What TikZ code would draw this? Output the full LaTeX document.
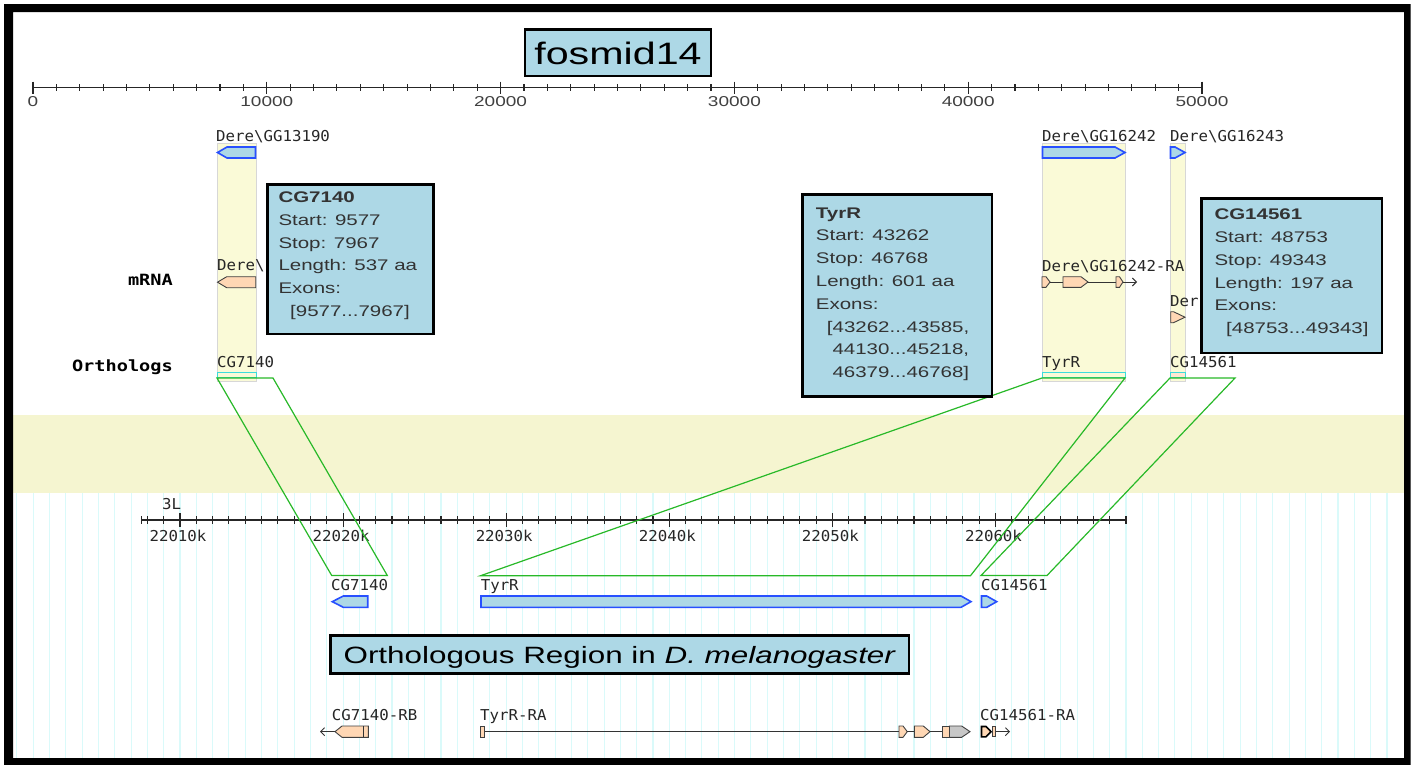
\documentclass[tikz,border=0pt]{standalone}
\usepackage{fontspec}
\setmainfont{Liberation Sans}
\newfontfamily\monofont{DejaVu Sans Mono}
\usetikzlibrary{arrows.meta}
\definecolor{bandyel}{RGB}{245,245,208}
\definecolor{colyel}{RGB}{250,250,215}
\definecolor{coledge}{RGB}{215,215,215}
\definecolor{gridcyan}{RGB}{218,250,250}
\definecolor{orthgreen}{RGB}{40,185,40}
\definecolor{genefill}{RGB}{173,216,230}
\definecolor{genedraw}{RGB}{40,80,255}
\definecolor{peach}{RGB}{255,215,180}
\definecolor{barcyan}{RGB}{60,220,220}
\newcommand{\hs}[1]{\scalebox{1.33}[1]{#1}}
\newcommand{\ms}[1]{\scalebox{1.05}[1]{#1}}
\newcommand{\mbx}[1]{\scalebox{1.2}[1]{#1}}
% style, xtip, xshoulder, xend, ytop, ybot
\newcommand{\geneL}[6]{\filldraw[#1] (#2,{(#5+#6)/2}) -- (#3,#5) -- (#4,#5) -- (#4,#6) -- (#3,#6) -- cycle;}
% style, xstart, xshoulder, xtip, ytop, ybot
\newcommand{\geneR}[6]{\filldraw[#1] (#2,#5) -- (#3,#5) -- (#4,{(#5+#6)/2}) -- (#3,#6) -- (#2,#6) -- cycle;}
\tikzset{
  bluegene/.style={fill=genefill, draw=genedraw, line width=1.6},
  peachgene/.style={fill=peach, draw=black!75, line width=0.9},
  intron/.style={draw=black!80, line width=0.9},
  barb/.style={-{Straight Barb[length=4pt,width=8pt]}},
  lbl/.style={anchor=base west, inner sep=0pt, font=\monofont\fontsize{15}{15}\selectfont, text=black!85},
  rowlbl/.style={anchor=base east, inner sep=0pt, font=\monofont\bfseries\fontsize{15.5}{15.5}\selectfont, text=black},
  rulerlab/.style={anchor=base, inner sep=0pt, font=\fontsize{14.3}{14.3}\selectfont, text=black!75},
  kplab/.style={anchor=base, inner sep=0pt, font=\monofont\fontsize{15}{15}\selectfont, text=black!85},
  ycol/.style={fill=colyel, draw=coledge, line width=0.8},
  obar/.style={draw=barcyan, line width=1},
  orth/.style={draw=orthgreen, line width=1.2},
  infobox/.style={draw=black, line width=2.5, fill=genefill, anchor=north west, inner sep=0pt},
  boxtext/.style={anchor=north west, inner sep=0pt, font=\fontsize{15.4}{22.8}\selectfont, text=black!80},
  titlebox/.style={draw=black, line width=2.5, fill=genefill, inner sep=0pt, text depth=0pt},
  tick/.style={draw=black!85, line width=1.1}
}
\begin{document}
\begin{tikzpicture}[x=1pt,y=-1pt]
\useasboundingbox (0,0) rectangle (1417,764);
\fill[white] (0,0) rectangle (1417,764);
% lower band and grid
\fill[bandyel] (13,415) rectangle (1404,492.7);
\foreach \k in {-10,...,74} \draw[gridcyan, line width=1.1] ({180+16.31*\k},493) -- ({180+16.31*\k},758);
% frame
\fill[black, even odd rule] (4,4) rectangle (1410.5,768) (13,12) rectangle (1404,758);

% yellow columns
\filldraw[ycol] (217,143) rectangle (256,381);
\filldraw[ycol] (1042,143) rectangle (1125,381);
\filldraw[ycol] (1170,143) rectangle (1185,381);

% top ruler
\draw[tick] (33,87.3) -- (1202,87.3);
\foreach \i in {0,...,50} \draw[tick] ({33+23.38*\i},84.2) -- ++(0,6.4);
\foreach \i/\lab in {0/0,10/10000,20/20000,30/30000,40/40000,50/50000} {
  \draw[tick] ({33+23.38*\i},81.5) -- ++(0,12.5);
  \node[rulerlab] (top\i) at ({33+23.38*\i},106.7) {\hs{\lab}};
}

% bottom ruler
\draw[tick] (141.7,520) -- (1126.7,520);
\draw[tick] (141.7,516.3) -- ++(0,7.4);
\draw[tick] (1126.7,516.3) -- ++(0,7.4);
\foreach \k in {-2,...,58} \draw[tick] ({180+16.31*\k},516.3) -- ++(0,7.4);
\foreach \j/\lab in {0/22010k,1/22020k,2/22030k,3/22040k,4/22050k,5/22060k} {
  \draw[tick] ({180+163.1*\j},513.3) -- ++(0,13.2);
  \node[kplab] (bot\j) at ({178+163.1*\j},541.7) {\ms{\lab}};
}
\node[kplab] (chr) at (171.7,509) {\ms{3L}};

% top genes
\node[lbl] (g1) at (216,141.5) {\ms{Dere\textbackslash GG13190}};
\node[lbl] (g2) at (1042,141.5) {\ms{Dere\textbackslash GG16242}};
\node[lbl] (g3) at (1170,141.5) {\ms{Dere\textbackslash GG16243}};
\geneL{bluegene}{217.5}{227}{255.5}{147}{158}
\geneR{bluegene}{1042.5}{1115}{1125}{147}{158}
\geneR{bluegene}{1170.5}{1175}{1185}{147}{158}

% mRNA row
\node[rowlbl] (mrna) at (173,285.7) {\mbx{mRNA}};
\node[lbl] (m1) at (217,270) {\ms{Dere\textbackslash}};
\geneL{peachgene}{217.5}{226.7}{255.7}{276.7}{287.7}
\node[lbl] (m2) at (1042,271) {\ms{Dere\textbackslash GG16242-RA}};
\geneR{peachgene}{1042}{1046}{1050}{276.7}{287.3}
\draw[intron] (1050,282) -- (1063,282);
\geneR{peachgene}{1063}{1081}{1088}{276.7}{287.3}
\draw[intron] (1088,282) -- (1116,282);
\geneR{peachgene}{1116}{1119.5}{1123}{276.7}{287.3}
\draw[intron, barb] (1123,282) -- (1137,282);
\node[lbl] (m3) at (1170,306) {\ms{Der}};
\geneR{peachgene}{1170.7}{1173.5}{1185}{311.7}{322.7}

% orthologs row
\node[rowlbl] (orthl) at (173,371.7) {\mbx{Orthologs}};
\node[lbl] (o1) at (217,367) {\ms{CG7140}};
\node[lbl] (o2) at (1042,367) {\ms{TyrR}};
\node[lbl] (o3) at (1170,367) {\ms{CG14561}};
\draw[obar] (217,372.5) rectangle (256,377.5);
\draw[obar] (1042,372.5) rectangle (1125,377.5);
\draw[obar, fill=peach!60] (1170,372.5) rectangle (1185,377.5);

% ortholog connections
\coordinate (a1) at (217,378); \coordinate (a2) at (273,378);
\coordinate (a3) at (387.3,575.5); \coordinate (a4) at (331.7,575.5);
\draw[orth] (a1) -- (a2) -- (a3) -- (a4) -- cycle;
\coordinate (b1) at (1042,378); \coordinate (b2) at (1125,378);
\coordinate (b3) at (970.5,575.7); \coordinate (b4) at (480.6,575.7);
\draw[orth] (b1) -- (b2) -- (b3) -- (b4) -- cycle;
\coordinate (c1) at (1170,378); \coordinate (c2) at (1235,378);
\coordinate (c3) at (1047,575.5); \coordinate (c4) at (981,575.5);
\draw[orth] (c1) -- (c2) -- (c3) -- (c4) -- cycle;

% bottom genes
\node[lbl] (d1) at (331,590.7) {\ms{CG7140}};
\node[lbl] (d2) at (480.6,590.7) {\ms{TyrR}};
\node[lbl] (d3) at (981,590.7) {\ms{CG14561}};
\geneL{bluegene}{332.3}{343.3}{367.7}{596}{607.3}
\geneR{bluegene}{481}{961}{971}{596}{607.3}
\geneR{bluegene}{981.5}{986.7}{996.7}{596}{607.3}

% bottom mRNA
\node[lbl] (r1) at (331.7,720) {\ms{CG7140-RB}};
\draw[intron, barb] (335,731.7) -- (320,731.7);
\geneL{peachgene}{335}{342}{368.3}{726}{737.3}
\draw[intron] (363.3,726) -- (363.3,737.3);
\node[lbl] (r2) at (480,720) {\ms{TyrR-RA}};
\draw[intron] (484.3,731.7) -- (899,731.7);
\filldraw[peachgene] (480.7,726) rectangle (484.3,737.3);
\geneR{peachgene}{899}{903}{907.3}{726}{737.3}
\draw[intron] (907.3,731.7) -- (914.3,731.7);
\geneR{peachgene}{914.3}{923.3}{930}{726}{737.3}
\draw[intron] (930,731.7) -- (942.7,731.7);
\geneR{peachgene, fill=black!22}{949.3}{961.7}{970}{726}{737.3}
\filldraw[peachgene] (942.7,726) rectangle (949.3,737.3);
\node[lbl] (r3) at (980,720) {\ms{CG14561-RA}};
\geneR{peachgene, line width=1.6, draw=black}{981.5}{986}{991}{726.5}{736.8}
\filldraw[peachgene] (992.5,726.5) rectangle (995.5,736.8);
\draw[intron, barb] (995.5,731.7) -- (1010,731.7);

% info boxes
\node[infobox, minimum width=166pt, minimum height=149.4pt] (box1) at (266,183.3) {};
\node[boxtext] (box1t) at (278.3,186.3) {\hs{\begin{tabular}{@{}l@{}}\textbf{CG7140}\\Start: 9577\\Stop: 7967\\Length: 537 aa\\Exons:\\\hspace{8.8pt}[9577...7967]\end{tabular}}};
\node[infobox, minimum width=189.7pt, minimum height=201.7pt] (box2) at (801,193.3) {};
\node[boxtext] (box2t) at (815.7,201.9) {\hs{\begin{tabular}{@{}l@{}}\textbf{TyrR}\\Start: 43262\\Stop: 46768\\Length: 601 aa\\Exons:\\\hspace{8.3pt}[43262...43585,\\\hspace{12.5pt}44130...45218,\\\hspace{12.5pt}46379...46768]\end{tabular}}};
\node[infobox, minimum width=180.7pt, minimum height=154.4pt] (box3) at (1200,197.3) {};
\node[boxtext] (box3t) at (1214.3,203.6) {\hs{\begin{tabular}{@{}l@{}}\textbf{CG14561}\\Start: 48753\\Stop: 49343\\Length: 197 aa\\Exons:\\\hspace{8.8pt}[48753...49343]\end{tabular}}};

% titles
\node[titlebox, minimum width=186pt, minimum height=46.7pt, text height=22.6pt, font=\fontsize{31}{31}\selectfont] (title) at (618,52.7) {\hs{fosmid14}};
\node[titlebox, minimum width=578.3pt, minimum height=37.6pt, text height=17.5pt, font=\fontsize{23.6}{24}\selectfont] (region) at (619.8,654.5) {\hs{Orthologous Region in \textit{D. melanogaster}}};
\end{tikzpicture}
\end{document}
